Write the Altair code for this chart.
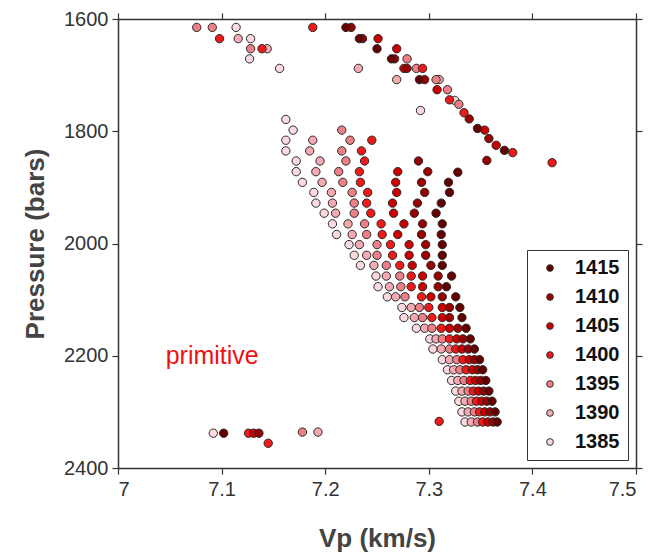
import altair as alt
import pandas as pd

# ---------------- data ----------------
temps = [1385, 1390, 1395, 1400, 1405, 1410, 1415]
colors = ["#fbd9de", "#f5aab2", "#ef7f86", "#ee1a1a", "#cc0000", "#990000", "#650000"]

# pressure levels of the main model grid (bars)
pressure_rows = [1779, 1798, 1816, 1835, 1853, 1872, 1891, 1909, 1928, 1946,
                 1965, 1984, 2002, 2021, 2039, 2058, 2077, 2095, 2114, 2132,
                 2151, 2170, 2188, 2207, 2225, 2244, 2263, 2281, 2300, 2318]

# Vp (km/s) along each temperature chain, and the row where the chain starts
vp_1385 = [7.162, 7.169, 7.162, 7.162, 7.172, 7.172, 7.178, 7.189, 7.191, 7.199,
           7.207, 7.211, 7.223, 7.228, 7.234, 7.249, 7.251, 7.260, 7.274, 7.276,
           7.288, 7.301, 7.304, 7.313, 7.318, 7.322, 7.326, 7.329, 7.332, 7.335]
vp_1390 = [7.188, 7.185, 7.195, 7.191, 7.197, 7.206, 7.207, 7.210, 7.222, 7.226,
           7.233, 7.240, 7.247, 7.259, 7.262, 7.268, 7.283, 7.286, 7.296, 7.307,
           7.312, 7.320, 7.324, 7.328, 7.332, 7.335, 7.338, 7.341]
vp_1395 = [7.216, 7.224, 7.216, 7.220, 7.213, 7.217, 7.226, 7.228, 7.228, 7.238,
           7.240, 7.250, 7.250, 7.259, 7.272, 7.273, 7.277, 7.291, 7.294, 7.303,
           7.313, 7.320, 7.327, 7.330, 7.334, 7.338, 7.341, 7.344, 7.347]
vp_1400 = [7.245, 7.235, 7.238, 7.233, 7.234, 7.241, 7.240, 7.244, 7.254, 7.255,
           7.263, 7.265, 7.272, 7.283, 7.283, 7.293, 7.300, 7.303, 7.312, 7.320,
           7.326, 7.333, 7.336, 7.340, 7.343, 7.346, 7.349, 7.352]
vp_1405 = [7.270, 7.268, 7.269, 7.265, 7.266, 7.276, 7.270, 7.281, 7.281, 7.284,
           7.294, 7.294, 7.302, 7.313, 7.313, 7.320, 7.327, 7.332, 7.339, 7.342,
           7.345, 7.348, 7.351, 7.354, 7.357]
vp_1410 = [7.290, 7.299, 7.293, 7.296, 7.289, 7.286, 7.294, 7.293, 7.297, 7.297,
           7.302, 7.309, 7.309, 7.313, 7.320, 7.320, 7.328, 7.333, 7.338, 7.344,
           7.347, 7.350, 7.353, 7.356, 7.359, 7.362]
vp_1415 = [7.319, 7.320, 7.312, 7.307, 7.313, 7.312, 7.313, 7.313, 7.313, 7.322,
           7.317, 7.326, 7.330, 7.332, 7.336, 7.340, 7.344, 7.349, 7.352, 7.355,
           7.358, 7.361, 7.364, 7.366]
chain_start = {1385: 0, 1390: 2, 1395: 1, 1400: 2, 1405: 5, 1410: 4, 1415: 6}

# scattered points outside the main grid (upper band, left group, bottom group)
extra_vp = [7.076, 7.091, 7.098, 7.114, 7.116, 7.128, 7.128, 7.139, 7.144, 7.127, 7.156,
            7.188, 7.220, 7.225, 7.233, 7.236, 7.251, 7.250, 7.269, 7.264, 7.267,
            7.279, 7.276, 7.279, 7.288, 7.294, 7.232, 7.269, 7.291, 7.296, 7.307,
            7.310, 7.308, 7.318, 7.320, 7.292,
            7.325, 7.329, 7.334, 7.339, 7.347, 7.354, 7.358, 7.365, 7.373, 7.381,
            7.419, 7.356, 7.328,
            7.092, 7.102, 7.126, 7.131, 7.136, 7.145, 7.178, 7.193, 7.310]
extra_p = [1615, 1615, 1635, 1615, 1635, 1635, 1653, 1653, 1653, 1671, 1688,
           1615, 1615, 1615, 1635, 1635, 1635, 1653, 1653, 1671, 1671,
           1671, 1688, 1688, 1688, 1688, 1688, 1708, 1708, 1708, 1708,
           1708, 1726, 1726, 1744, 1763,
           1745, 1752, 1767, 1778, 1795, 1798, 1813, 1825, 1834, 1838,
           1856, 1852, 1873,
           2338, 2338, 2338, 2338, 2338, 2356, 2336, 2336, 2317]
extra_t = [1395, 1395, 1400, 1385, 1390, 1385, 1395, 1400, 1390, 1385, 1385,
           1400, 1415, 1410, 1415, 1410, 1405, 1415, 1405, 1415, 1410,
           1395, 1405, 1410, 1395, 1400, 1390, 1390, 1415, 1410, 1395,
           1390, 1405, 1395, 1400, 1385,
           1385, 1395, 1400, 1410, 1415, 1405, 1410, 1405, 1415, 1400,
           1400, 1410, 1415,
           1385, 1415, 1400, 1405, 1410, 1400, 1395, 1390, 1400]

x_ticks = [7.0, 7.1, 7.2, 7.3, 7.4, 7.5]
y_ticks = [1600, 1800, 2000, 2200, 2400]

# ---------------- build the table ----------------
chains = {1385: vp_1385, 1390: vp_1390, 1395: vp_1395, 1400: vp_1400,
          1405: vp_1405, 1410: vp_1410, 1415: vp_1415}
rows = []
for t in temps:
    s = chain_start[t]
    for i, v in enumerate(chains[t]):
        rows.append({"Vp": v, "P": pressure_rows[s + i], "T": t})
for v, p, t in zip(extra_vp, extra_p, extra_t):
    rows.append({"Vp": v, "P": p, "T": t})
df = pd.DataFrame(rows)
df = df.sort_values("T", kind="stable").reset_index(drop=True)
df["ord"] = range(len(df))

FONT = "Liberation Sans"
xscale = alt.Scale(domain=[7.0, 7.5], nice=False, zero=False)
yscale = alt.Scale(domain=[1600, 2400], reverse=True, nice=False, zero=False)

axis_common = dict(grid=False, tickSize=6, tickColor="#333333", tickWidth=1.2,
                   domainColor="#333333", domainWidth=1.5,
                   labelFont=FONT, labelFontSize=20, labelColor="#333333",
                   titleFont=FONT, titleFontSize=26, titleFontWeight="bold",
                   titleColor="#444444")

points = alt.Chart(df).mark_point(
    filled=True, shape="circle", size=70, stroke="#2a2a2a", strokeWidth=1, opacity=1
).encode(
    x=alt.X("Vp:Q", scale=xscale,
            axis=alt.Axis(orient="bottom", values=x_ticks, format=".1~f",
                          title="Vp (km/s)", titlePadding=26, labelPadding=5, **axis_common)),
    y=alt.Y("P:Q", scale=yscale,
            axis=alt.Axis(orient="left", values=y_ticks, format="d",
                          title="Pressure (bars)", titlePadding=15, labelPadding=4, **axis_common)),
    color=alt.Color("T:N",
                    scale=alt.Scale(domain=temps[::-1], range=colors[::-1]),
                    legend=alt.Legend(title=None, orient="none", legendX=409, legendY=231,
                                      fillColor="white", strokeColor="#333333",
                                      padding=8, symbolType="circle", symbolSize=45,
                                      symbolStrokeColor="#333333", symbolStrokeWidth=1,
                                      symbolOffset=5, labelOffset=15, rowPadding=9,
                                      labelFont=FONT, labelFontSize=20,
                                      labelFontWeight="bold", labelColor="#111111")),
    order=alt.Order("ord:Q"),
)

frame = alt.Chart(df).mark_point(opacity=0).encode(
    x=alt.X("Vp:Q", scale=xscale,
            axis=alt.Axis(orient="top", values=x_ticks, labels=False, title=None, **axis_common)),
    y=alt.Y("P:Q", scale=yscale,
            axis=alt.Axis(orient="right", values=y_ticks, labels=False, title=None, **axis_common)),
)

label_df = pd.DataFrame({"Vp": [7.046], "P": [2200], "txt": ["primitive"]})
label = alt.Chart(label_df).mark_text(
    align="left", baseline="middle", font=FONT, fontSize=25, color="#ee1111"
).encode(
    x=alt.X("Vp:Q", scale=xscale, axis=None),
    y=alt.Y("P:Q", scale=yscale, axis=None),
    text="txt:N",
)

chart = alt.layer(points, frame, label).resolve_axis(
    x="independent", y="independent"
).properties(
    width=518, height=449,
    padding={"left": 110, "top": 11, "right": 9, "bottom": 84},
    autosize=alt.AutoSizeParams(type="none"),
).configure_view(stroke=None).configure(background="white")

chart.save("out.html", embed_options={"renderer": "svg", "actions": False})
